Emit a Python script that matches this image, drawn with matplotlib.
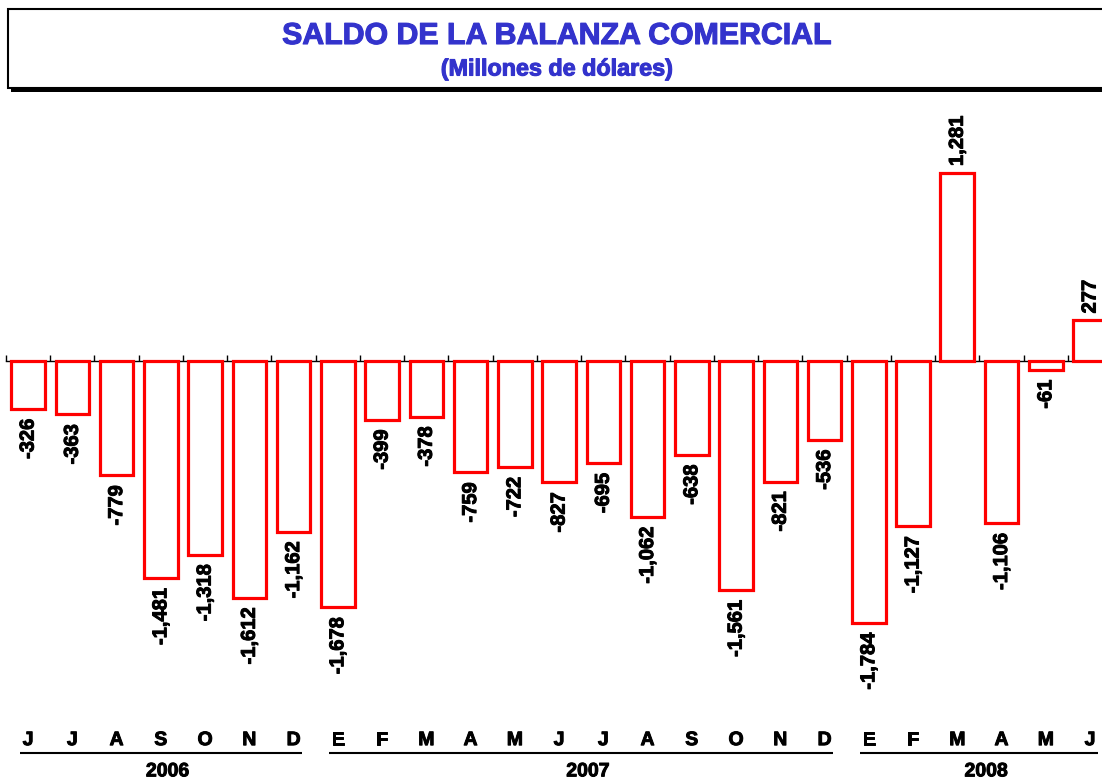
import numpy as np
import matplotlib.pyplot as plt
import matplotlib.patheffects as pe
from matplotlib.patches import Rectangle
from matplotlib.transforms import blended_transform_factory

plt.rcParams['font.family'] = 'Liberation Sans'

# months Jun-2006 .. Jun-2008
months = ["J", "J", "A", "S", "O", "N", "D",
          "E", "F", "M", "A", "M", "J", "J", "A", "S", "O", "N", "D",
          "E", "F", "M", "A", "M", "J"]
saldo = [-326, -363, -779, -1481, -1318, -1612, -1162,
         -1678, -399, -378, -759, -722, -827, -695, -1062, -638, -1561, -821, -536,
         -1784, -1127, 1281, -1106, -61, 277]
years = ["2006", "2007", "2008"]
year_groups = [(0, 6), (7, 18), (19, 24)]

W, H = 1102, 783
fig = plt.figure(figsize=(W / 100, H / 100), dpi=100)

# thicken glyphs a little, the source is heavier than plain bold
heavy = [pe.withStroke(linewidth=0.7, foreground='black')]
heavy_blue = [pe.withStroke(linewidth=0.8, foreground='#3333cc')]


def fx(px):
    return px / W


def fy(py):
    return 1 - py / H


# title box with shadow
fig.add_artist(Rectangle((fx(11), fy(92)), fx(1200 - 11), fy(13) - fy(92),
                         transform=fig.transFigure, facecolor='black', edgecolor='none'))
fig.add_artist(Rectangle((fx(8), fy(88)), fx(1200 - 8), fy(9) - fy(88),
                         transform=fig.transFigure, facecolor='white', edgecolor='black', lw=1.5))
fig.text(fx(556), fy(36), "SALDO DE LA BALANZA COMERCIAL", ha='center', va='center',
         fontsize=21.8, fontweight='bold', color='#3333cc', path_effects=heavy_blue)
fig.text(fx(557), fy(69), "(Millones de dólares)", ha='center', va='center',
         fontsize=16.8, fontweight='bold', color='#3333cc', path_effects=heavy_blue)

ax = fig.add_axes([fx(6), fy(720), fx(1102) - fx(6), fy(95) - fy(720)])
x = np.arange(len(saldo))
ax.bar(x, saldo, width=0.76, facecolor='white', edgecolor='red', linewidth=2.3,
       zorder=3, joinstyle='miter')

for s in ['top', 'left', 'right']:
    ax.spines[s].set_visible(False)
ax.spines['bottom'].set_position(('data', 0))
ax.spines['bottom'].set_linewidth(1)
ax.set_xticks(np.arange(len(saldo) + 1) - 0.5)
ax.tick_params(axis='x', direction='in', length=4, width=1, labelbottom=False)
ax.set_yticks([])
ax.set_xlim(-0.5, 24.27)
ax.set_ylim(-2445, 1812)

for xi, v in zip(x, saldo):
    if v < 0:
        ax.annotate(f"{v:,}", (xi, v), xytext=(0, -7), textcoords='offset points',
                    rotation=90, ha='center', va='top', fontsize=14.5, fontweight='bold',
                    path_effects=heavy)
    else:
        ax.annotate(f"{v:,}", (xi, v), xytext=(0, 5), textcoords='offset points',
                    rotation=90, ha='center', va='bottom', fontsize=14.5, fontweight='bold',
                    path_effects=heavy)

tr = blended_transform_factory(ax.transData, ax.transAxes)
for xi, m in zip(x, months):
    ax.text(xi, -0.033, m, transform=tr, ha='center', va='center',
            fontsize=14, fontweight='bold', clip_on=False, path_effects=heavy)

for yr, (a, b) in zip(years, year_groups):
    ax.plot([a - 0.19, b + 0.19], [-0.053, -0.053], transform=tr, color='black',
            lw=1.5, clip_on=False, solid_capstyle='butt')
    ax.text((a + b) / 2 + 0.15, -0.083, yr, transform=tr, ha='center', va='center',
            fontsize=14, fontweight='bold', clip_on=False, path_effects=heavy)

fig.savefig("out.png", dpi=100)
